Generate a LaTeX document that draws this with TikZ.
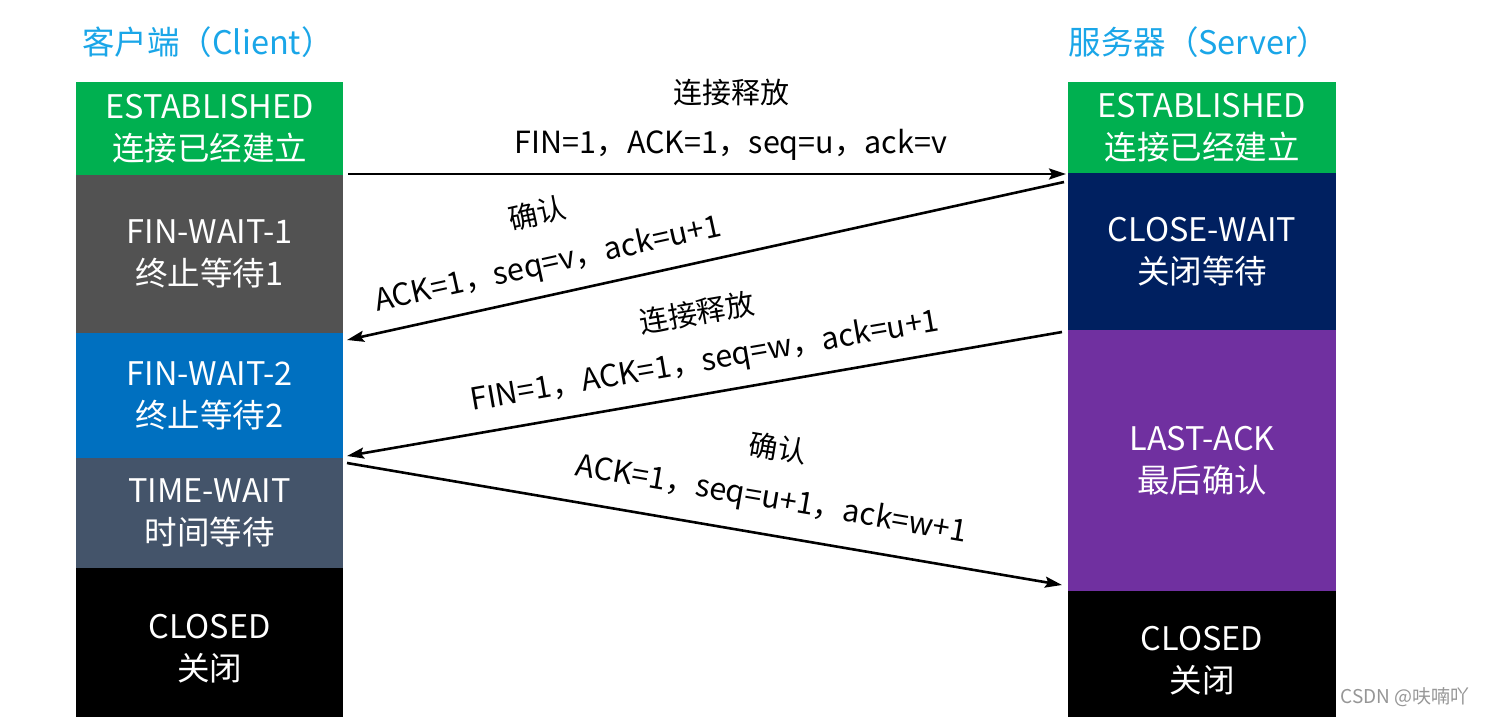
\documentclass[tikz,border=0pt]{standalone}
\usepackage{fontspec}
\setmainfont{Noto Sans CJK SC}
\usetikzlibrary{arrows.meta}
\definecolor{cgreen}{HTML}{00B050}
\definecolor{cgray}{HTML}{525252}
\definecolor{cblue}{HTML}{0070C0}
\definecolor{cslate}{HTML}{44546A}
\definecolor{cnavy}{HTML}{002060}
\definecolor{cpurple}{HTML}{7030A0}
\definecolor{ctitle}{RGB}{26,166,232}
\definecolor{cmark}{RGB}{150,150,150}
\begin{document}
\begin{tikzpicture}[x=1pt,y=-1pt,
  lstate/.style={minimum width=267pt, text=white, align=center, inner sep=0pt, font=\fontsize{32.5}{42}\selectfont},
  rstate/.style={minimum width=268pt, text=white, align=center, inner sep=0pt, font=\fontsize{32.5}{42}\selectfont},
  titletext/.style={text=ctitle, inner sep=0pt, font=\fontsize{32.5}{38}\selectfont},
  msg/.style={line width=2.6pt, -{Stealth[length=17pt,width=11pt,inset=3pt]}},
  lblcn/.style={inner sep=0pt, font=\fontsize{29}{34}\selectfont},
  lbl/.style={inner sep=0pt, font=\fontsize{30.5}{36}\selectfont}
]
\useasboundingbox (0,0) rectangle (1486,716);
\clip (0,0) rectangle (1486,716);
\fill[white] (0,0) rectangle (1486,716);

% titles
\node[titletext] (tclient) at (208,42) {客户端（Client）};
\node[titletext] (tserver) at (1199,42) {服务器（Server）};

% client states
\node[lstate, fill=cgreen, minimum height=93pt] (cest) at (209.5,128.5) {ESTABLISHED\\连接已经建立};
\node[lstate, fill=cgray, minimum height=158pt] (cfw1) at (209.5,254) {FIN-WAIT-1\\终止等待1};
\node[lstate, fill=cblue, minimum height=125pt] (cfw2) at (209.5,395.5) {FIN-WAIT-2\\终止等待2};
\node[lstate, fill=cslate, minimum height=110pt] (ctw) at (209.5,513) {TIME-WAIT\\时间等待};
\node[lstate, fill=black, minimum height=162pt] (ccl) at (209.5,649) {CLOSED\\关闭};

% server states
\node[rstate, fill=cgreen, minimum height=91pt] (sest) at (1202,127.5) {ESTABLISHED\\连接已经建立};
\node[rstate, fill=cnavy, minimum height=157pt] (scw) at (1202,251.5) {CLOSE-WAIT\\关闭等待};
\node[rstate, fill=cpurple, minimum height=261pt] (sla) at (1202,460.5) {LAST-ACK\\最后确认};
\node[rstate, fill=black, minimum height=140pt] (scl) at (1202,661) {CLOSED\\关闭};

% arrow end points
\coordinate (a1s) at (348,174);
\coordinate (a1e) at (1066,174);
\coordinate (a2s) at (1064,182);
\coordinate (a2e) at (347,340);
\coordinate (a3s) at (1062,332);
\coordinate (a3e) at (347,456);
\coordinate (a4s) at (347,463);
\coordinate (a4e) at (1062,585);

\draw[msg] (a1s) -- (a1e);
\draw[msg] (a2s) -- (a2e);
\draw[msg] (a3s) -- (a3e);
\draw[msg] (a4s) -- (a4e);

% labels
\node[lblcn] (l1a) at (731,92) {连接释放};
\node[lbl] (l1b) at (731,145) {FIN=1，ACK=1，seq=u，ack=v};
\node[lblcn, rotate=12.4] (l2a) at (537,213) {确认};
\node[lbl, rotate=12.4] (l2b) at (548,265) {ACK=1，seq=v，ack=u+1};
\node[lblcn, rotate=9.8] (l3a) at (697,313) {连接释放};
\node[lbl, rotate=9.8] (l3b) at (705,362) {FIN=1，ACK=1，seq=w，ack=u+1};
\node[lblcn, rotate=-9.7] (l4a) at (778,448) {确认};
\node[lbl, rotate=-9.7] (l4b) at (771,500) {ACK=1，seq=u+1，ack=w+1};

% watermark
\node[text=cmark, inner sep=0pt, font=\fontsize{19}{22}\selectfont] (wm) at (1405,697) {CSDN @呋喃吖};
\end{tikzpicture}
\end{document}
